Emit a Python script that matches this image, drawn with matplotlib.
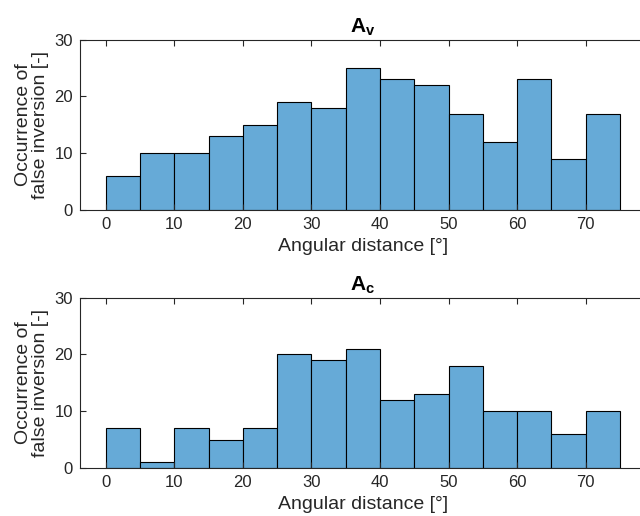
import matplotlib
matplotlib.use("Agg")
import matplotlib.pyplot as plt
import numpy as np

plt.rcParams['font.family'] = ['Liberation Sans', 'DejaVu Sans']
plt.rcParams['mathtext.fontset'] = 'custom'
plt.rcParams['mathtext.rm'] = 'Liberation Sans'
plt.rcParams['mathtext.bf'] = 'Liberation Sans:bold'

bin_edges = np.arange(0, 80, 5)
counts_v = [6, 10, 10, 13, 15, 19, 18, 25, 23, 22, 17, 12, 23, 9, 17]
counts_c = [7, 1, 7, 5, 7, 20, 19, 21, 12, 13, 18, 10, 10, 6, 10]
titles = [r'$\mathbf{A_v}$', r'$\mathbf{A_c}$']
xticks = [0, 10, 20, 30, 40, 50, 60, 70]
yticks = [0, 10, 20, 30]

face = (0.4, 0.668, 0.845)
axcol = '#262626'

fig = plt.figure(figsize=(6.4, 5.16), dpi=100)
boxes = [[0.125, 0.593, 0.884, 0.330], [0.125, 0.093, 0.884, 0.330]]

for box, counts, title in zip(boxes, [counts_v, counts_c], titles):
    ax = fig.add_axes(box)
    ax.bar(bin_edges[:-1], counts, width=5, align='edge', color=face,
           edgecolor='black', linewidth=0.8)
    ax.set_xlim(-3.75, 78.75)
    ax.set_ylim(0, 30)
    ax.set_xticks(xticks)
    ax.set_yticks(yticks)
    ax.tick_params(direction='in', top=True, right=True, colors=axcol,
                   labelsize=12, length=4, width=0.8, pad=5)
    for s in ax.spines.values():
        s.set_color(axcol)
        s.set_linewidth(0.8)
    ax.set_xlabel('Angular distance [°]', fontsize=14, color=axcol, labelpad=4)
    ax.set_ylabel('Occurrence of\nfalse inversion [-]', fontsize=14,
                  color=axcol, labelpad=4, linespacing=1.0)
    ax.set_title(title, fontsize=15, color='black', pad=5)

fig.savefig('out.png', dpi=100)
